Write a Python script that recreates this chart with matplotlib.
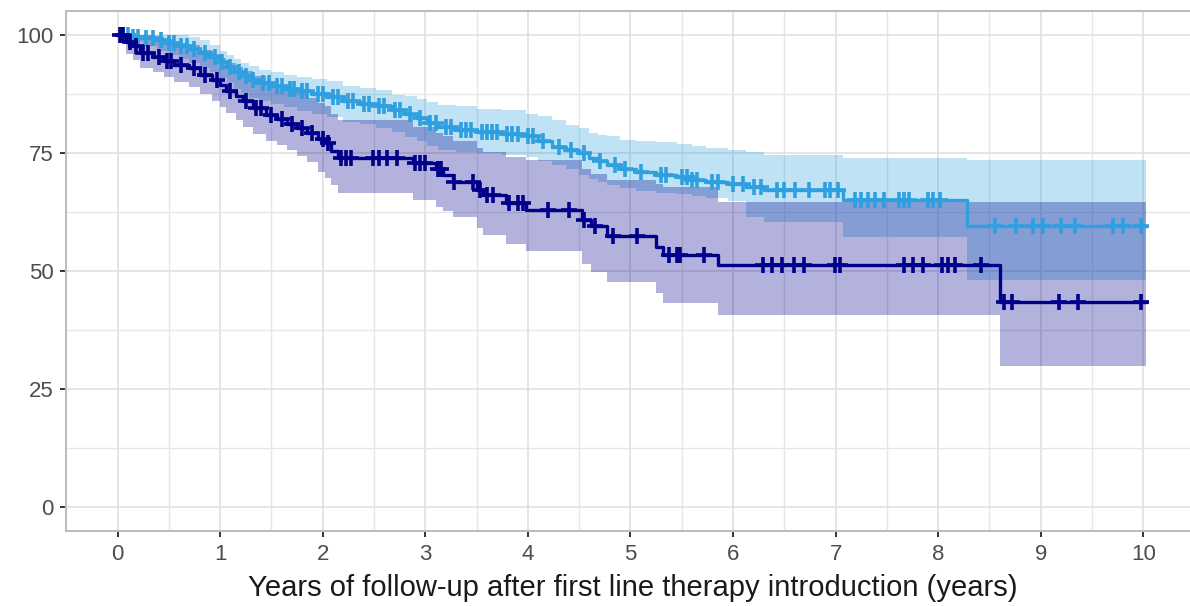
import numpy as np
import matplotlib
matplotlib.use("Agg")
import matplotlib.pyplot as plt

plt.rcParams['font.family'] = ['Liberation Sans', 'DejaVu Sans']

## grupo 1 (azul claro)
t_azul = [0, 0.12, 0.25, 0.38, 0.5, 0.6, 0.7, 0.8, 0.9, 1.0, 1.07, 1.14, 1.2, 1.28, 1.38, 1.5,
          1.62, 1.75, 1.9, 2.04, 2.2, 2.36, 2.52, 2.68, 2.8, 2.92, 3.02, 3.12, 3.3, 3.5, 3.75,
          3.98, 4.1, 4.24, 4.37, 4.5, 4.6, 4.68, 4.77, 4.9, 5.05, 5.25, 5.45, 5.6, 5.74, 5.95,
          6.13, 6.3, 7.07, 8.28, 10.03]
s_azul = [100, 99.6, 99.2, 98.8, 98.2, 97.6, 96.9, 96.2, 95.2, 94.2, 93.2, 92.2, 91.3, 90.5, 89.8, 89.2,
          88.6, 88.0, 87.4, 86.9, 86.0, 85.4, 84.8, 84.1, 83.2, 82.4, 81.4, 80.5, 79.8, 79.3, 79.0,
          78.6, 77.5, 76.3, 75.6, 75.0, 74.0, 73.2, 72.4, 71.6, 70.9, 70.3, 69.8, 69.3, 68.8, 68.3,
          67.8, 67.2, 65.0, 59.5, 59.5]
sup_azul = [100, 100, 100, 100, 100, 100, 99.5, 98.8, 97.8, 96.5, 95.6, 94.8, 94.0, 93.3, 92.6, 92.0,
            91.5, 91.1, 90.6, 90.2, 89.2, 88.8, 88.2, 87.3, 87.0, 86.3, 85.8, 85.2, 85.0, 84.2, 84.0,
            83.2, 82.8, 82.0, 80.8, 80.3, 79.2, 78.8, 78.5, 77.8, 77.5, 77.2, 76.8, 76.5, 76.0, 75.6,
            75.2, 74.6, 73.9, 73.5, 73.5]
inf_azul = [100, 98.5, 97.5, 96.5, 95.6, 94.8, 93.9, 93.0, 92.0, 90.8, 89.7, 88.6, 87.6, 86.7, 86.0, 85.3,
            84.6, 83.9, 83.2, 82.6, 81.6, 81.0, 80.2, 79.3, 78.4, 77.5, 76.5, 75.6, 75.2, 75.0, 74.6,
            74.2, 73.2, 72.5, 71.6, 70.3, 69.4, 68.9, 68.2, 67.6, 67.0, 66.5, 66.2, 65.9, 65.5, 64.8,
            61.5, 60.4, 57.2, 48.0, 48.0]
cens_azul = [0.05, 0.1, 0.15, 0.2, 0.28, 0.35, 0.42, 0.5, 0.55, 0.62, 0.68, 0.75, 0.85, 0.95, 1.02,
             1.1, 1.18, 1.25, 1.32, 1.42, 1.48, 1.55, 1.6, 1.68, 1.72, 1.8, 1.85, 1.95, 2.0, 2.1,
             2.15, 2.25, 2.3, 2.4, 2.45, 2.55, 2.6, 2.7, 2.75, 2.85, 2.95, 3.05, 3.1, 3.2, 3.25,
             3.35, 3.4, 3.45, 3.55, 3.6, 3.65, 3.7, 3.8, 3.85, 3.9, 4.0, 4.05, 4.15, 4.3, 4.42,
             4.55, 4.7, 4.85, 4.95, 5.1, 5.3, 5.35, 5.5, 5.55, 5.6, 5.65, 5.8, 5.85, 6.0, 6.1,
             6.2, 6.27, 6.43, 6.5, 6.6, 6.74, 6.9, 6.95, 7.02, 7.19, 7.25, 7.32, 7.38, 7.47,
             7.62, 7.67, 7.72, 7.9, 7.95, 8.02, 8.55, 8.76, 8.92, 9.02, 9.2, 9.33, 9.7, 9.8, 9.98]

## grupo 2 (azul oscuro)
t_osc = [0, 0.08, 0.15, 0.22, 0.35, 0.45, 0.55, 0.7, 0.8, 0.92, 1.0, 1.06, 1.15, 1.22, 1.32, 1.45,
         1.55, 1.65, 1.75, 1.85, 1.95, 2.02, 2.08, 2.15, 2.88, 3.1, 3.17, 3.27, 3.5, 3.56, 3.79,
         3.98, 4.53, 4.62, 4.77, 5.25, 5.32, 5.85, 8.6, 10.03]
s_osc = [100, 98.5, 97.5, 96.2, 95.2, 94.5, 93.6, 93.0, 91.5, 90.5, 89.4, 88.0, 87.0, 86.0, 84.5, 83.0,
         82.2, 81.0, 80.3, 79.2, 78.0, 77.0, 75.3, 73.9, 72.9, 71.5, 70.3, 68.9, 67.2, 66.1, 64.4,
         62.9, 60.8, 59.5, 57.4, 55.1, 53.4, 51.3, 43.5, 43.5]
sup_osc = [100, 100, 100, 100, 99.5, 99.0, 98.3, 97.8, 96.8, 96.0, 95.0, 94.0, 93.2, 92.4, 91.2, 90.0,
           89.2, 88.2, 87.6, 86.6, 85.6, 84.8, 83.2, 82.0, 80.5, 79.2, 78.5, 77.5, 76.0, 75.2, 74.2,
           73.5, 71.5, 70.6, 69.3, 68.3, 67.8, 64.5, 64.5, 64.5]
inf_osc = [100, 96.0, 94.6, 93.0, 92.0, 91.0, 90.0, 89.0, 87.4, 86.0, 84.6, 83.5, 82.0, 80.5, 79.0, 77.5,
           76.6, 75.5, 74.3, 73.0, 71.0, 69.6, 68.2, 66.5, 65.0, 63.6, 62.6, 61.4, 59.0, 57.6, 55.8,
           54.2, 51.5, 49.8, 47.7, 45.3, 43.2, 40.7, 30.0, 30.0]
cens_osc = [0.02, 0.05, 0.12, 0.18, 0.25, 0.3, 0.4, 0.48, 0.52, 0.62, 0.75, 0.85, 0.97, 1.1, 1.25,
            1.35, 1.4, 1.5, 1.6, 1.7, 1.8, 1.9, 2.0, 2.05, 2.18, 2.23, 2.28, 2.49, 2.55, 2.63, 2.72,
            2.9, 2.95, 3.0, 3.12, 3.15, 3.28, 3.47, 3.53, 3.6, 3.66, 3.82, 3.9, 3.95, 4.2, 4.4,
            4.55, 4.65, 4.83, 5.06, 5.38, 5.45, 5.48, 5.72, 6.29, 6.38, 6.48, 6.59, 6.69, 6.99,
            7.04, 7.67, 7.75, 7.85, 8.04, 8.1, 8.16, 8.42, 8.64, 8.72, 9.18, 9.36, 9.98]

ticks_x = list(range(0, 11))
ticks_y = [0, 25, 50, 75, 100]
titulo_x = 'Years of follow-up after first line therapy introduction (years)'

col_azul = '#2E9FDF'
col_osc = '#00008B'


def valorEn(tiempos, valores, t):
    i = np.searchsorted(tiempos, t, side='right') - 1
    return np.asarray(valores)[i]


fig = plt.figure(figsize=(11.9, 6.06), dpi=100)
ax = fig.add_axes([66 / 1190, 75 / 606, 1134 / 1190, 520 / 606])

## bandas de confianza
ax.fill_between(t_azul, inf_azul, sup_azul, step='post', color=col_azul, alpha=0.3, lw=0)
ax.fill_between(t_osc, inf_osc, sup_osc, step='post', color=col_osc, alpha=0.3, lw=0)

## curvas y censuras
ax.step(t_azul, s_azul, where='post', color=col_azul, lw=2.4, zorder=3)
ax.plot(cens_azul, valorEn(t_azul, s_azul, cens_azul), ls='none', marker='+',
        ms=12, mew=2.6, color=col_azul, zorder=3)
ax.step(t_osc, s_osc, where='post', color=col_osc, lw=2.4, zorder=4)
ax.plot(cens_osc, valorEn(t_osc, s_osc, cens_osc), ls='none', marker='+',
        ms=12, mew=2.6, color=col_osc, zorder=4)

ax.set_xlim(-0.5025, 10.5525)
ax.set_ylim(-5, 105)
ax.set_xticks(ticks_x)
ax.set_yticks(ticks_y)
ax.set_xticks(np.arange(0.5, 10.6, 1), minor=True)
ax.set_yticks([12.5, 37.5, 62.5, 87.5], minor=True)
ax.grid(which='major', color='#E0E0E0', lw=1.2)
ax.grid(which='minor', color='#E6E6E6', lw=1.0)
ax.set_axisbelow(True)
ax.tick_params(which='major', length=4, width=1.4, color='#333333',
               labelsize=16, labelcolor='#4D4D4D', pad=5)
ax.tick_params(which='minor', length=0)
for sp in ax.spines.values():
    sp.set_color('#BDBDBD')
    sp.set_linewidth(1.5)
ax.set_xlabel(titulo_x, fontsize=21, color='#1a1a1a', labelpad=7)

fig.savefig('out.png', dpi=100)
